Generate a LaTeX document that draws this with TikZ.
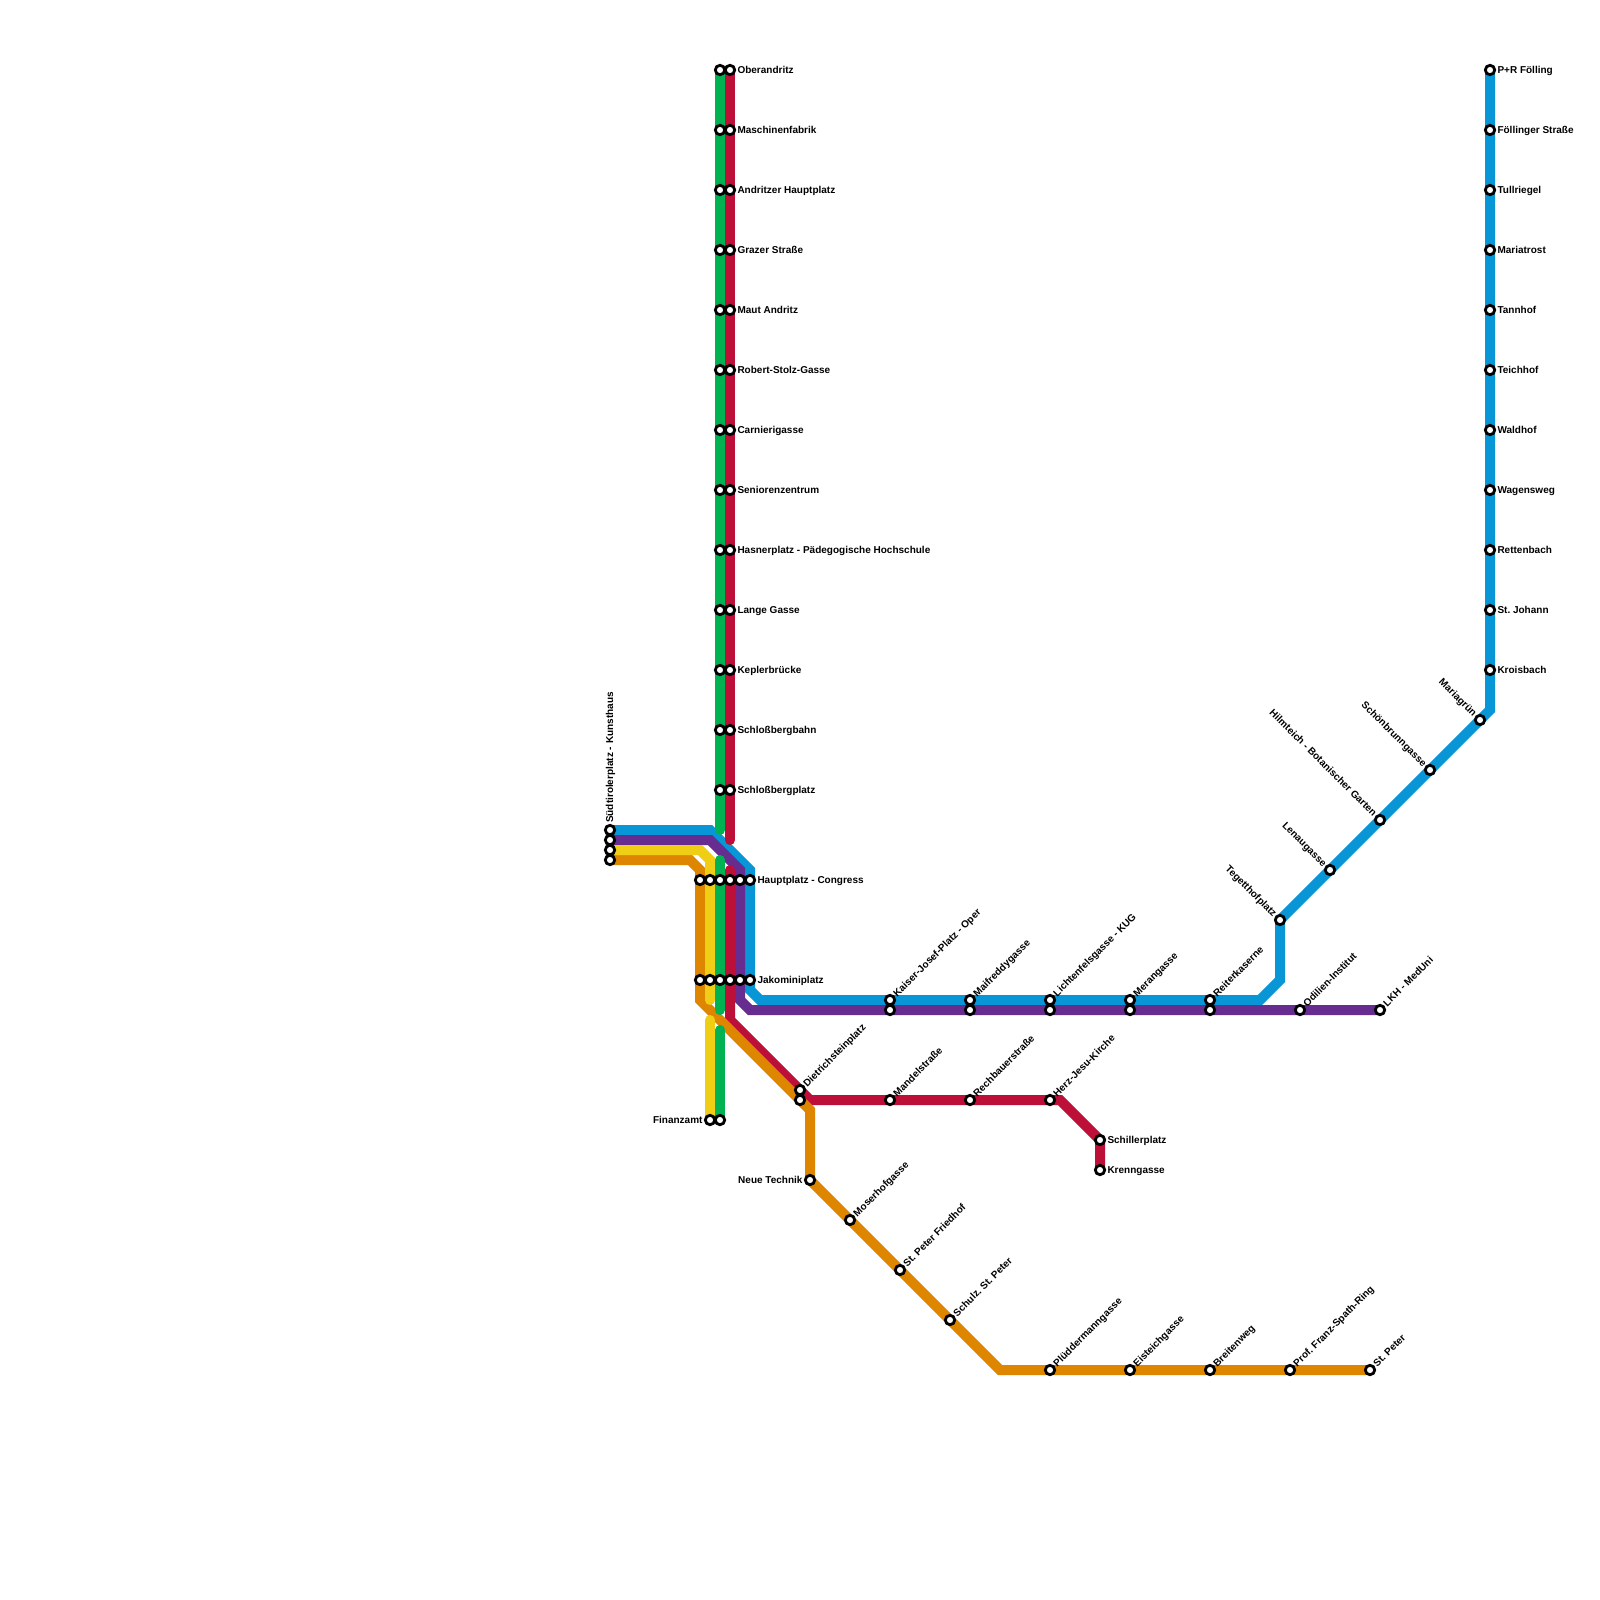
\documentclass[tikz,border=0pt]{standalone}
\usepackage{fontspec}
\setmainfont{Liberation Sans}
\usetikzlibrary{backgrounds,positioning}
\definecolor{lineblue}{HTML}{0896D7}
\definecolor{linepurple}{HTML}{662C90}
\definecolor{lineyellow}{HTML}{F0CE15}
\definecolor{lineorange}{HTML}{DF8600}
\definecolor{linegreen}{HTML}{00B251}
\definecolor{linered}{HTML}{BD1038}
\tikzset{
  track/.style={line width=10pt,line cap=round,line join=miter},
  stn/.style={circle,draw=black,fill=white,line width=2.8pt,minimum size=9.4pt,inner sep=0pt},
  lbl/.style={font=\frenchspacing\bfseries\fontsize{10}{12}\selectfont,inner sep=0pt,text=black},
  lble/.style={lbl,anchor=base west,xshift=7.3pt,yshift=-3.1pt},
  lblw/.style={lbl,anchor=base east,xshift=-7.3pt,yshift=-3.1pt},
  lblne/.style={lbl,rotate=45,anchor=base west,xshift=7pt,yshift=-3.2pt},
  lblnw/.style={lbl,rotate=-45,anchor=base east,xshift=-7pt,yshift=-3.2pt},
  lbln/.style={lbl,rotate=90,anchor=base west,xshift=7pt,yshift=-3.2pt}
}
\begin{document}
\begin{tikzpicture}[x=1pt,y=-1pt]
  \useasboundingbox (0,0) rectangle (1600,1600);
  % corners of the lines
  \coordinate (bl1) at (710,830);
  \coordinate (bl2) at (750,870);
  \coordinate (bl3) at (750,990);
  \coordinate (bl4) at (760,1000);
  \coordinate (bl5) at (1260,1000);
  \coordinate (bl6) at (1280,980);
  \coordinate (bl7) at (1490,710);
  \coordinate (pu1) at (710,840);
  \coordinate (pu2) at (740,870);
  \coordinate (pu3) at (740,1000);
  \coordinate (pu4) at (750,1010);
  \coordinate (ye1) at (700,850);
  \coordinate (ye2) at (710,860);
  \coordinate (ye3) at (710,1000);
  \coordinate (ye4) at (710,1020);
  \coordinate (or1) at (690,860);
  \coordinate (or2) at (700,870);
  \coordinate (or3) at (700,1000);
  \coordinate (or4) at (810,1110);
  \coordinate (or5) at (1000,1370);
  \coordinate (gr1) at (720,830);
  \coordinate (gr2) at (720,860);
  \coordinate (gr3) at (720,1010);
  \coordinate (gr4) at (720,1030);
  \coordinate (re1) at (730,840);
  \coordinate (re2) at (730,870);
  \coordinate (re3) at (730,1020);
  \coordinate (re4) at (810,1100);
  \coordinate (re5) at (1060,1100);
  % stations, green and red branch
  \node[stn] (gober) at (720,70) {};
  \node[stn] (gmasch) at (720,130) {};
  \node[stn] (gandr) at (720,190) {};
  \node[stn] (ggraz) at (720,250) {};
  \node[stn] (gmaut) at (720,310) {};
  \node[stn] (grobert) at (720,370) {};
  \node[stn] (gcarn) at (720,430) {};
  \node[stn] (gsenior) at (720,490) {};
  \node[stn] (ghasner) at (720,550) {};
  \node[stn] (glange) at (720,610) {};
  \node[stn] (gkepler) at (720,670) {};
  \node[stn] (gbahn) at (720,730) {};
  \node[stn] (gschloss) at (720,790) {};
  \node[stn] (rober) at (730,70) {};
  \node[stn] (rmasch) at (730,130) {};
  \node[stn] (randr) at (730,190) {};
  \node[stn] (rgraz) at (730,250) {};
  \node[stn] (rmaut) at (730,310) {};
  \node[stn] (rrobert) at (730,370) {};
  \node[stn] (rcarn) at (730,430) {};
  \node[stn] (rsenior) at (730,490) {};
  \node[stn] (rhasner) at (730,550) {};
  \node[stn] (rlange) at (730,610) {};
  \node[stn] (rkepler) at (730,670) {};
  \node[stn] (rbahn) at (730,730) {};
  \node[stn] (rschloss) at (730,790) {};
  % stations, south tyrol square
  \node[stn] (sblue) at (610,830) {};
  \node[stn] (spurple) at (610,840) {};
  \node[stn] (syellow) at (610,850) {};
  \node[stn] (sorange) at (610,860) {};
  % stations, main square
  \node[stn] (horange) at (700,880) {};
  \node[stn] (hyellow) at (710,880) {};
  \node[stn] (hgreen) at (720,880) {};
  \node[stn] (hred) at (730,880) {};
  \node[stn] (hpurple) at (740,880) {};
  \node[stn] (hblue) at (750,880) {};
  \node[stn] (jorange) at (700,980) {};
  \node[stn] (jyellow) at (710,980) {};
  \node[stn] (jgreen) at (720,980) {};
  \node[stn] (jred) at (730,980) {};
  \node[stn] (jpurple) at (740,980) {};
  \node[stn] (jblue) at (750,980) {};
  % stations, blue and purple towards the east
  \node[stn] (kblue) at (890,1000) {};
  \node[stn] (kpurple) at (890,1010) {};
  \node[stn] (mblue) at (970,1000) {};
  \node[stn] (mpurple) at (970,1010) {};
  \node[stn] (lblue) at (1050,1000) {};
  \node[stn] (lpurple) at (1050,1010) {};
  \node[stn] (eblue) at (1130,1000) {};
  \node[stn] (epurple) at (1130,1010) {};
  \node[stn] (rkblue) at (1210,1000) {};
  \node[stn] (rkpurple) at (1210,1010) {};
  \node[stn] (odilien) at (1300,1010) {};
  \node[stn] (lkh) at (1380,1010) {};
  \node[stn] (teget) at (1280,920) {};
  \node[stn] (lenau) at (1330,870) {};
  \node[stn] (hilm) at (1380,820) {};
  \node[stn] (schoen) at (1430,770) {};
  \node[stn] (maria) at (1480,720) {};
  \node[stn] (krois) at (1490,670) {};
  \node[stn] (johann) at (1490,610) {};
  \node[stn] (rett) at (1490,550) {};
  \node[stn] (wagen) at (1490,490) {};
  \node[stn] (wald) at (1490,430) {};
  \node[stn] (teich) at (1490,370) {};
  \node[stn] (tann) at (1490,310) {};
  \node[stn] (mtrost) at (1490,250) {};
  \node[stn] (tull) at (1490,190) {};
  \node[stn] (foell) at (1490,130) {};
  \node[stn] (pr) at (1490,70) {};
  % stations, south
  \node[stn] (fyellow) at (710,1120) {};
  \node[stn] (fgreen) at (720,1120) {};
  \node[stn] (dred) at (800,1090) {};
  \node[stn] (dorange) at (800,1100) {};
  \node[stn] (mandel) at (890,1100) {};
  \node[stn] (rech) at (970,1100) {};
  \node[stn] (herz) at (1050,1100) {};
  \node[stn] (schiller) at (1100,1140) {};
  \node[stn] (krenn) at (1100,1170) {};
  \node[stn] (neue) at (810,1180) {};
  \node[stn] (moser) at (850,1220) {};
  \node[stn] (fried) at (900,1270) {};
  \node[stn] (schulz) at (950,1320) {};
  \node[stn] (plued) at (1050,1370) {};
  \node[stn] (eist) at (1130,1370) {};
  \node[stn] (breit) at (1210,1370) {};
  \node[stn] (prof) at (1290,1370) {};
  \node[stn] (peter) at (1370,1370) {};
  % lines go under the stations
  \begin{scope}[on background layer]
    \draw[track,lineblue] (sblue.center) -- (bl1) -- (bl2) -- (bl3) -- (bl4) -- (bl5) -- (bl6) -- (teget.center) -- (bl7) -- (pr.center);
    \draw[track,linepurple] (spurple.center) -- (pu1) -- (pu2) -- (pu3) -- (pu4) -- (lkh.center);
    \draw[track,linered] (rober.center) -- (re1);
    \draw[track,linered] (re2) -- (re3) -- (re4) -- (re5) -- (schiller.center) -- (krenn.center);
    \draw[track,lineorange] (sorange.center) -- (or1) -- (or2) -- (or3) -- (or4) -- (neue.center) -- (or5) -- (peter.center);
    \draw[track,lineyellow] (syellow.center) -- (ye1) -- (ye2) -- (ye3);
    \draw[track,lineyellow] (ye4) -- (fyellow.center);
    \draw[track,linegreen] (gober.center) -- (gr1);
    \draw[track,linegreen] (gr2) -- (gr3);
    \draw[track,linegreen] (gr4) -- (fgreen.center);
  \end{scope}
  % labels
  \node[lble] (toberandritz) at (rober) {Oberandritz};
  \node[lble] (tmaschinen) at (rmasch) {Maschinenfabrik};
  \node[lble] (tandritzer) at (randr) {Andritzer Hauptplatz};
  \node[lble] (tgrazer) at (rgraz) {Grazer Straße};
  \node[lble] (tmaut) at (rmaut) {Maut Andritz};
  \node[lble] (trobert) at (rrobert) {Robert-Stolz-Gasse};
  \node[lble] (tcarnieri) at (rcarn) {Carnierigasse};
  \node[lble] (tsenioren) at (rsenior) {Seniorenzentrum};
  \node[lble] (thasner) at (rhasner) {Hasnerplatz - Pädegogische Hochschule};
  \node[lble] (tlange) at (rlange) {Lange Gasse};
  \node[lble] (tkepler) at (rkepler) {Keplerbrücke};
  \node[lble] (tbahn) at (rbahn) {Schloßbergbahn};
  \node[lble] (tschloss) at (rschloss) {Schloßbergplatz};
  \node[lbln] (tsued) at (sblue) {Südtirolerplatz - Kunsthaus};
  \node[lble] (thaupt) at (hblue) {Hauptplatz - Congress};
  \node[lble] (tjakomini) at (jblue) {Jakominiplatz};
  \node[lblne] (tkaiser) at (kblue) {Kaiser-Josef-Platz - Oper};
  \node[lblne] (tmaifred) at (mblue) {Maifreddygasse};
  \node[lblne] (tlichten) at (lblue) {Lichtenfelsgasse - KUG};
  \node[lblne] (tmeran) at (eblue) {Merangasse};
  \node[lblne] (treiter) at (rkblue) {Reiterkaserne};
  \node[lblne] (todilien) at (odilien) {Odilien-Institut};
  \node[lblne] (tlkh) at (lkh) {LKH - MedUni};
  \node[lblnw] (tteget) at (teget) {Tegetthofplatz};
  \node[lblnw] (tlenau) at (lenau) {Lenaugasse};
  \node[lblnw] (thilm) at (hilm) {Hilmteich - Botanischer Garten};
  \node[lblnw] (tschoen) at (schoen) {Schönbrunngasse};
  \node[lblnw] (tmaria) at (maria) {Mariagrün};
  \node[lble] (tkrois) at (krois) {Kroisbach};
  \node[lble] (tjohann) at (johann) {St. Johann};
  \node[lble] (trett) at (rett) {Rettenbach};
  \node[lble] (twagen) at (wagen) {Wagensweg};
  \node[lble] (twald) at (wald) {Waldhof};
  \node[lble] (tteich) at (teich) {Teichhof};
  \node[lble] (ttann) at (tann) {Tannhof};
  \node[lble] (tmtrost) at (mtrost) {Mariatrost};
  \node[lble] (ttull) at (tull) {Tullriegel};
  \node[lble] (tfoell) at (foell) {Föllinger Straße};
  \node[lble] (tpr) at (pr) {P+R Fölling};
  \node[lblw] (tfinanz) at (fyellow) {Finanzamt};
  \node[lblne] (tdietrich) at (dred) {Dietrichsteinplatz};
  \node[lblne] (tmandel) at (mandel) {Mandelstraße};
  \node[lblne] (trech) at (rech) {Rechbauerstraße};
  \node[lblne] (therz) at (herz) {Herz-Jesu-Kirche};
  \node[lble] (tschiller) at (schiller) {Schillerplatz};
  \node[lble] (tkrenn) at (krenn) {Krenngasse};
  \node[lblw] (tneue) at (neue) {Neue Technik};
  \node[lblne] (tmoser) at (moser) {Moserhofgasse};
  \node[lblne] (tfried) at (fried) {St. Peter Friedhof};
  \node[lblne] (tschulz) at (schulz) {Schulz. St. Peter};
  \node[lblne] (tplued) at (plued) {Plüddermanngasse};
  \node[lblne] (teist) at (eist) {Eisteichgasse};
  \node[lblne] (tbreit) at (breit) {Breitenweg};
  \node[lblne] (tprof) at (prof) {Prof. Franz-Spath-Ring};
  \node[lblne] (tpeter) at (peter) {St. Peter};
\end{tikzpicture}
\end{document}
